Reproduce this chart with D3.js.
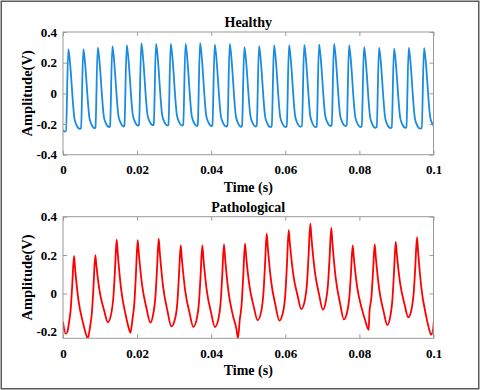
<!DOCTYPE html>
<html>
<head>
<meta charset="utf-8">
<script src="https://cdn.jsdelivr.net/npm/d3@7"></script>
<style>
  html, body { margin: 0; padding: 0; background: #fff; }
  svg text { font-family: "Liberation Serif", "Times New Roman", serif; font-weight: bold; fill: #000; }
</style>
</head>
<body>
<div id="chart"></div>
<script>
// ---- data ----
const xTicks = [0, 0.02, 0.04, 0.06, 0.08, 0.1];
const xTickLabels = ["0", "0.02", "0.04", "0.06", "0.08", "0.1"];
const healthyYTicks = [-0.4, -0.2, 0, 0.2, 0.4];
const healthyYTickLabels = ["-0.4", "-0.2", "0", "0.2", "0.4"];
const pathYTicks = [-0.2, 0, 0.2, 0.4];
const pathYTickLabels = ["-0.2", "0", "0.2", "0.4"];

// healthy: time and amplitude of every peak, and the trough that follows it
const healthyPeakT = [0.00143, 0.00548, 0.00937, 0.01331, 0.01719, 0.02113, 0.0251, 0.02907, 0.03306,
  0.03698, 0.04094, 0.04499, 0.04893, 0.0529, 0.05695, 0.061, 0.0651, 0.0691, 0.07314, 0.0772,
  0.08124, 0.08529, 0.08934, 0.0933, 0.09744];
const healthyPeakV = [0.287, 0.287, 0.298, 0.306, 0.312, 0.326, 0.322, 0.322, 0.322, 0.328, 0.318,
  0.322, 0.302, 0.308, 0.312, 0.312, 0.316, 0.318, 0.322, 0.312, 0.302, 0.297, 0.291, 0.297, 0.295];
const healthyTroughV = [-0.232, -0.228, -0.22, -0.216, -0.21, -0.208, -0.21, -0.21, -0.213, -0.213,
  -0.216, -0.218, -0.216, -0.22, -0.22, -0.218, -0.22, -0.213, -0.213, -0.22, -0.225, -0.227,
  -0.225, -0.23, -0.222];
const healthyStart = [[0, -0.238], [0.0003, -0.25]];
// beat outline: [seconds from peak, share of the way from trough up to peak]
const healthyRise = [[-0.00062, 0.01]];
const healthyFall = [[0.00025, 0.93], [0.0017, 0.12], [0.0022, 0.05], [0.0031, 0]];

// pathological
const pathPeakT = [0.00297, 0.00872, 0.01449, 0.02016, 0.02583, 0.03177, 0.0376, 0.04345, 0.04912,
  0.05498, 0.06092, 0.06675, 0.07241, 0.07819, 0.08413, 0.0898, 0.09555];
const pathPeakV = [0.195, 0.2, 0.28, 0.278, 0.285, 0.25, 0.25, 0.255, 0.26, 0.312, 0.33, 0.364,
  0.342, 0.25, 0.255, 0.268, 0.294];
const pathTroughV = [-0.222, -0.15, -0.19, -0.152, -0.172, -0.175, -0.175, -0.19, -0.14, -0.142,
  -0.082, -0.085, -0.135, -0.142, -0.165, -0.125, -0.195];
const pathStart = [[0, -0.148], [0.0004, -0.195], [0.0008, -0.21], [0.0012, -0.2]];
const pathSpikes = [[0.0067, -0.235], [0.0182, -0.205], [0.0472, -0.235], [0.0825, -0.19], [0.0993, -0.215]];
const pathEnd = [[0.0998, -0.2], [0.1003, -0.08]];
const pathRise = [[-0.0014, 0.12], [-0.0009, 0.3], [-0.0005, 0.6]];
const pathFall = [[0.0003, 0.84], [0.0012, 0.45], [0.0024, 0.17], [0.0034, 0]];

// ---- layout ----
const width = 480, height = 390;
const plotLeft = 63, plotRight = 433.5;
const font = 13, labelFont = 14;

function beats(peakT, peakV, troughV, firstTrough, rise, fall) {
  const pts = [];
  peakT.forEach((tp, i) => {
    const pv = peakV[i];
    const tb = i ? troughV[i - 1] : firstTrough;
    const ta = troughV[i];
    rise.forEach(([dt, f]) => pts.push([tp + dt, tb + f * (pv - tb)]));
    pts.push([tp, pv]);
    fall.forEach(([dt, f]) => pts.push([tp + dt, ta + f * (pv - ta)]));
  });
  return pts;
}

const healthyPts = healthyStart.concat(
  beats(healthyPeakT, healthyPeakV, healthyTroughV, -0.25, healthyRise, healthyFall));
const pathPts = pathStart
  .concat(beats(pathPeakT, pathPeakV, pathTroughV, -0.205, pathRise, pathFall))
  .concat(pathSpikes, pathEnd)
  .sort((a, b) => a[0] - b[0]);

const svg = d3.select("#chart").append("svg")
  .attr("width", width).attr("height", height);

svg.append("rect").attr("width", width).attr("height", height).attr("fill", "#fff");
svg.append("rect")
  .attr("x", 1.25).attr("y", 1.25).attr("width", 477.5).attr("height", 387.5)
  .attr("fill", "none").attr("stroke", "#5c5c5c").attr("stroke-width", 1.5);

const x = d3.scaleLinear().domain([0, 0.1]).range([plotLeft, plotRight]);

function panel(id, top, bottom, yDomain, yTicks, yLabels, title, points, color, lw) {
  const y = d3.scaleLinear().domain(yDomain).range([bottom, top]);
  const g = svg.append("g");

  g.append("clipPath").attr("id", id)
    .append("rect").attr("x", plotLeft).attr("y", top)
    .attr("width", plotRight - plotLeft).attr("height", bottom - top);

  const line = d3.line().x(d => x(d[0])).y(d => y(d[1])).curve(d3.curveMonotoneX);
  g.append("path").datum(points)
    .attr("clip-path", `url(#${id})`)
    .attr("fill", "none").attr("stroke", color).attr("stroke-width", lw)
    .attr("stroke-linejoin", "round").attr("d", line);

  const axes = [
    g.append("g").attr("transform", `translate(0,${bottom})`)
      .call(d3.axisBottom(x).tickValues(xTicks).tickFormat((d, i) => xTickLabels[i]).tickSize(-4).tickPadding(10)),
    g.append("g").attr("transform", `translate(${plotLeft},0)`)
      .call(d3.axisLeft(y).tickValues(yTicks).tickFormat((d, i) => yLabels[i]).tickSize(-4).tickPadding(6)),
    g.append("g").attr("transform", `translate(0,${top})`)
      .call(d3.axisTop(x).tickValues(xTicks).tickFormat("").tickSize(-4)),
    g.append("g").attr("transform", `translate(${plotRight},0)`)
      .call(d3.axisRight(y).tickValues(yTicks).tickFormat("").tickSize(-4))
  ];
  axes.forEach(a => {
    a.attr("font-size", font).attr("font-family", null);
    a.select(".domain").remove();
    a.selectAll(".tick line").attr("stroke", "#9a9a9a");
  });

  g.append("rect")
    .attr("x", plotLeft).attr("y", top)
    .attr("width", plotRight - plotLeft).attr("height", bottom - top)
    .attr("fill", "none").attr("stroke", "#9a9a9a").attr("stroke-width", 1);

  const cx = (plotLeft + plotRight) / 2;
  g.append("text").attr("x", cx).attr("y", top - 5)
    .attr("text-anchor", "middle").attr("font-size", labelFont).text(title);
  g.append("text").attr("x", cx).attr("y", bottom + 37)
    .attr("text-anchor", "middle").attr("font-size", labelFont).text("Time (s)");
  g.append("text")
    .attr("transform", `translate(31.5,${(top + bottom) / 2}) rotate(-90)`)
    .attr("text-anchor", "middle").attr("font-size", 14.5).text("Amplitude(V)");
}

panel("clipHealthy", 32, 154.7, [-0.4, 0.4], healthyYTicks, healthyYTickLabels,
  "Healthy", healthyPts, "#1a8be0", 1.8);
panel("clipPath", 216.7, 338.3, [-0.234, 0.4], pathYTicks, pathYTickLabels,
  "Pathological", pathPts, "#ff0000", 1.8);
</script>
</body>
</html>
